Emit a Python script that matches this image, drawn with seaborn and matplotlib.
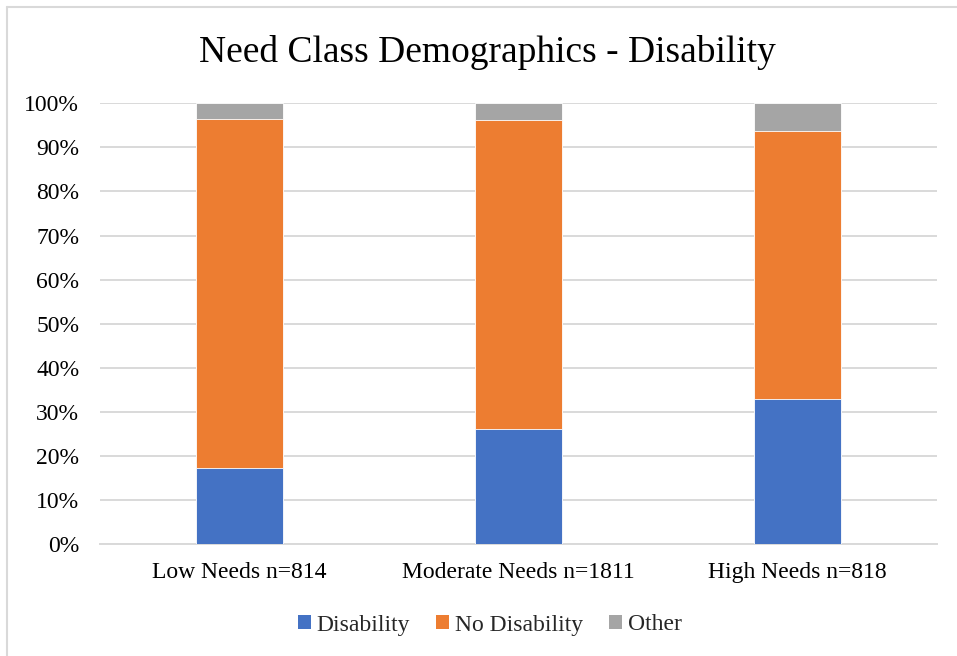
import matplotlib
matplotlib.use("Agg")
import matplotlib.pyplot as plt
import seaborn as sns
import pandas as pd
from matplotlib.patches import Patch
from matplotlib.lines import Line2D
from matplotlib.ticker import PercentFormatter

categories = ["Low Needs n=814", "Moderate Needs n=1811", "High Needs n=818"]
disability = [17.2, 26.1, 32.9]
no_disability = [79.2, 70.0, 60.8]
other = [3.6, 3.9, 6.3]
series_names = ["Disability", "No Disability", "Other"]
colors = ["#4472C4", "#ED7D31", "#A5A5A5"]

sns.set_theme(style="white")
plt.rcParams["font.family"] = ["Liberation Serif", "DejaVu Serif"]

df = pd.DataFrame({
    "category": categories,
    "Disability": disability,
    "No Disability": no_disability,
    "Other": other,
})
df["top_dis"] = df["Disability"]
df["top_nodis"] = df["Disability"] + df["No Disability"]
df["top_other"] = df["top_nodis"] + df["Other"]

fig = plt.figure(figsize=(9.57, 6.56), dpi=100)
ax = fig.add_axes([100/957, 1-544.3/656, 837/957, 441/656])

bw = 87/279
for col, c in [("top_other", colors[2]), ("top_nodis", colors[1]), ("top_dis", colors[0])]:
    sns.barplot(data=df, x="category", y=col, color=c, width=bw, ax=ax,
                saturation=1, edgecolor="white", linewidth=0.6, zorder=3)

ax.set_ylim(0, 100)
ax.set_xlim(-0.5, 2.5)
ax.set_yticks(range(0, 101, 10))
ax.yaxis.set_major_formatter(PercentFormatter(decimals=0))
ax.grid(axis="y", color="#D9D9D9", linewidth=1.4, zorder=0)
ax.set_axisbelow(True)
for s in ["top", "right", "left"]:
    ax.spines[s].set_visible(False)
ax.spines["bottom"].set_color("#D9D9D9")
ax.spines["bottom"].set_linewidth(1.4)
ax.set_xlabel("")
ax.set_ylabel("")
ax.tick_params(axis="y", length=0, pad=15, labelsize=17, colors="#000000")
ax.tick_params(axis="x", length=0, pad=13, labelsize=17, colors="#000000")

fig.text(487/957, 1-52/656, "Need Class Demographics - Disability",
         ha="center", va="center", fontsize=27, color="#000000")

handles = [Patch(facecolor=c, edgecolor="none", label=n) for n, c in zip(series_names, colors)]
fig.legend(handles=handles, loc="center", bbox_to_anchor=(490/957, 1-625/656),
           ncol=3, frameon=False, fontsize=17, handlelength=0.55, handleheight=0.55,
           handletextpad=0.25, columnspacing=1.1)

# chart-area border (left and top edges visible)
fig.lines.append(Line2D([6.5/957, 6.5/957], [0, 1-7/656], transform=fig.transFigure,
                        color="#D9D9D9", linewidth=1.5))
fig.lines.append(Line2D([6.5/957, 1], [1-7/656, 1-7/656], transform=fig.transFigure,
                        color="#D9D9D9", linewidth=1.5))

fig.savefig("out.png", dpi=100)
